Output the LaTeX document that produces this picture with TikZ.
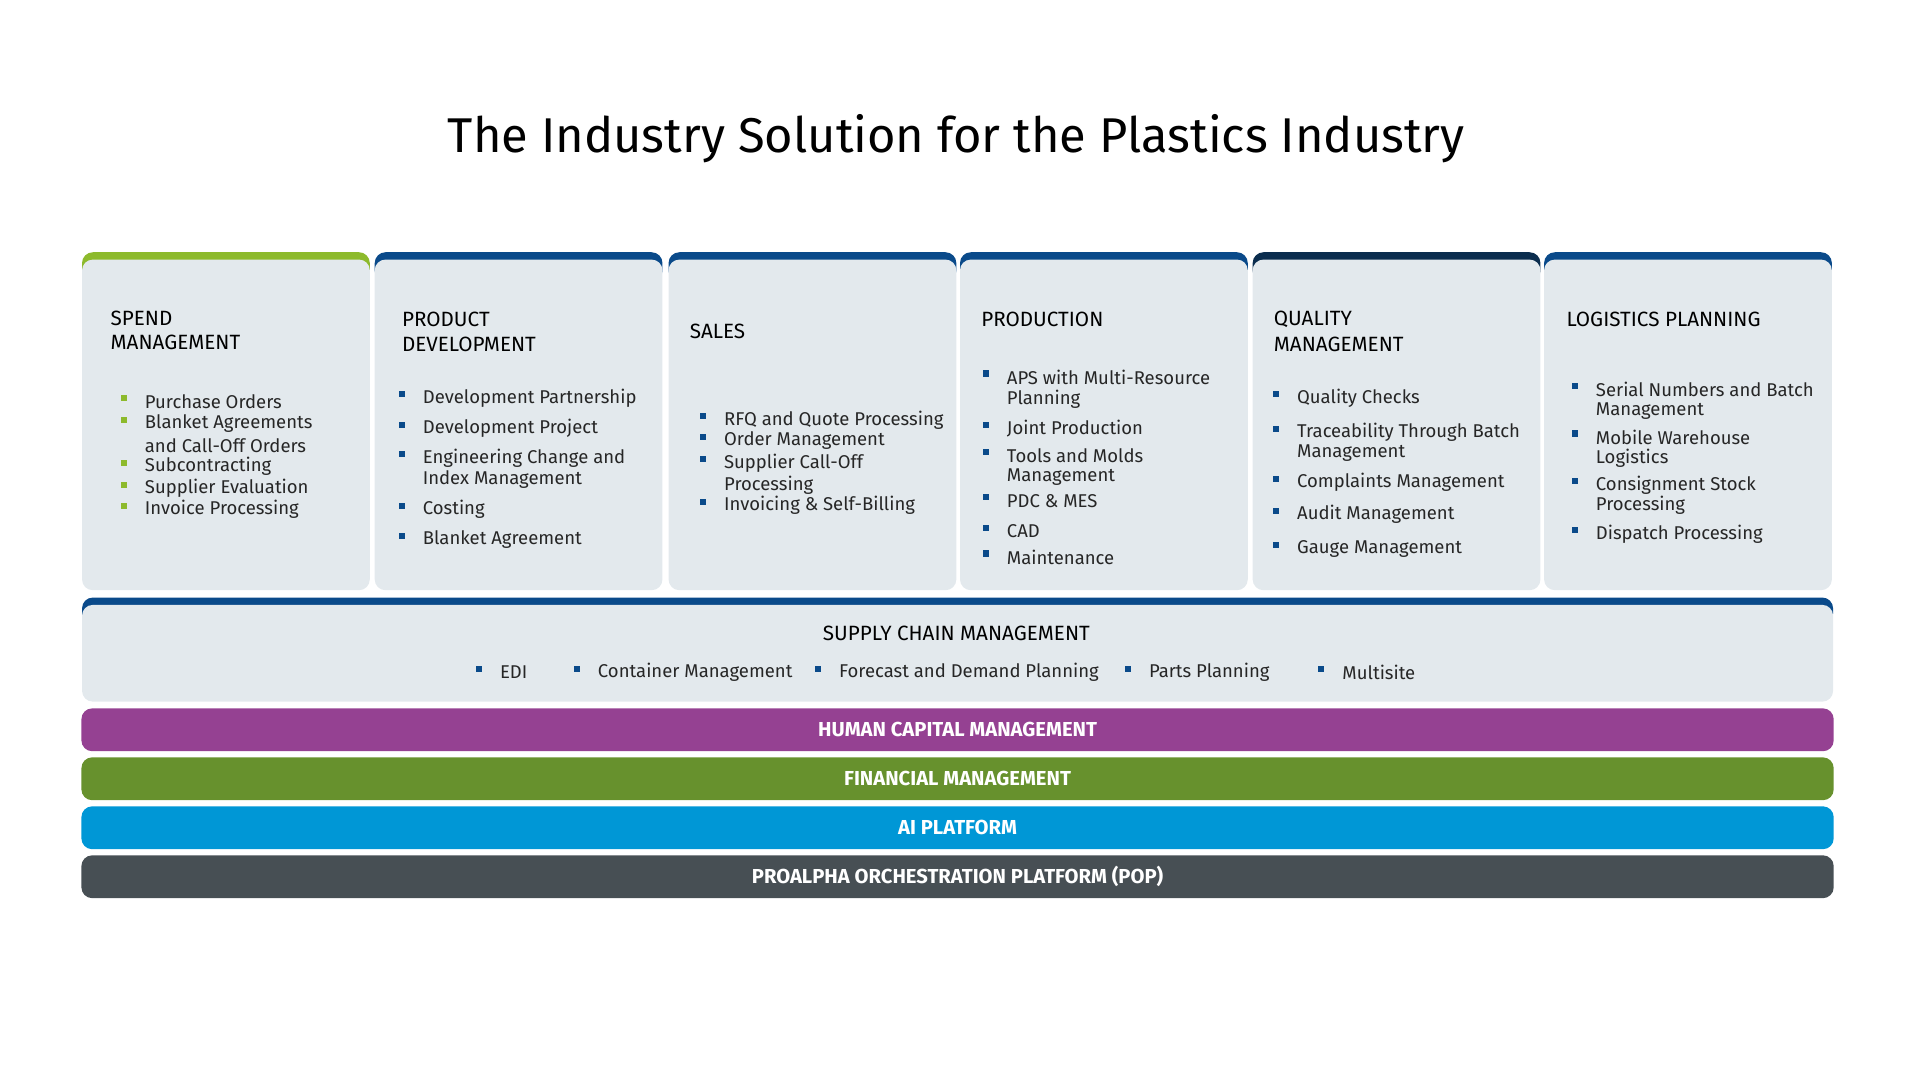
\documentclass[tikz,border=0pt]{standalone}
\usepackage{fontspec}
\setmainfont{Fira Sans}
\begin{document}
\begin{tikzpicture}[x=0.02cm,y=-0.02cm,
  col/.style={fill=colbg,rounded corners=5},
  hd/.style={anchor=west,font=\fontsize{9.6pt}{11pt}\selectfont,text=black,inner sep=0},
  tx/.style={anchor=west,font=\fontsize{8.6pt}{10pt}\selectfont,text=black!85,inner sep=0},
  bar/.style={rounded corners=5,minimum width=1431*0.02cm,minimum height=35*0.02cm,inner sep=0,text=white,font=\fontsize{9.4pt}{11pt}\selectfont\bfseries},
  sq/.style={fill=#1,minimum size=5*0.02cm,inner sep=0}]
\definecolor{colbg}{HTML}{E3E9ED}
\definecolor{dblue}{HTML}{0A4A8A}
\definecolor{ddblue}{HTML}{0B2D4E}
\definecolor{lgreen}{HTML}{8DBA2C}
\useasboundingbox (0,0) rectangle (1568,882);
\node[font=\fontsize{22.7pt}{26pt}\selectfont,inner sep=0] (title) at (781,113) {The Industry Solution for the Plastics Industry};
% columns
\foreach \x/\c [count=\i] in {67/lgreen,306/dblue,546/dblue,784/dblue,1023/ddblue,1261/dblue}{
  \fill[\c,rounded corners=5] (\x,206) rectangle (\x+235,230);
  \fill[col] (\x,212) rectangle (\x+235,482);
  \coordinate (c\i) at (\x,206);
}
\newcommand\bl[5][dblue]{\node[sq=#1] (b#2) at (#3,#4-3) {};\node[tx] (t#2) at (#3+17,#4) {#5};}
\newcommand\tl[4]{\node[tx] (#1) at (#2+17,#3) {#4};}
% spend
\node[hd] (h1) at (90,260) {SPEND}; \node[hd] (h1b) at (90,280) {MANAGEMENT};
\bl[lgreen]{11}{101}{328}{Purchase Orders}
\bl[lgreen]{12}{101}{346}{Blanket Agreements}\tl{t12b}{101}{364}{and Call-Off Orders}
\bl[lgreen]{13}{101}{381}{Subcontracting}
\bl[lgreen]{14}{101}{399}{Supplier Evaluation}
\bl[lgreen]{15}{101}{416}{Invoice Processing}
% product dev
\node[hd] (h2) at (328,261) {PRODUCT}; \node[hd] (h2b) at (328,281) {DEVELOPMENT};
\bl{21}{328}{325}{Development Partnership}
\bl{22}{328}{350}{Development Project}
\bl{23}{328}{374}{Engineering Change and}\tl{t23b}{328}{392}{Index Management}
\bl{24}{328}{416}{Costing}
\bl{25}{328}{441}{Blanket Agreement}
% sales
\node[hd] (h3) at (563,271) {SALES};
\bl{31}{574}{343}{RFQ and Quote Processing}
\bl{32}{574}{360}{Order Management}
\bl{33}{574}{378}{Supplier Call-Off}\tl{t33b}{574}{396}{Processing}
\bl{34}{574}{413}{Invoicing \& Self-Billing}
% production
\node[hd] (h4) at (801,261) {PRODUCTION};
\bl{41}{805}{308}{APS with Multi-Resource}\tl{t41b}{805}{326}{Planning}
\bl{42}{805}{350}{Joint Production}
\bl{43}{805}{372}{Tools and Molds}\tl{t43b}{805}{390}{Management}
\bl{44}{805}{409}{PDC \& MES}
\bl{45}{805}{434}{CAD}
\bl{46}{805}{455}{Maintenance}
% quality
\node[hd] (h5) at (1040,261) {QUALITY}; \node[hd] (h5b) at (1040,281) {MANAGEMENT};
\bl{51}{1042}{325}{Quality Checks}
\bl{52}{1042}{353}{Traceability Through Batch}\tl{t52b}{1042}{370}{Management}
\bl{53}{1042}{394}{Complaints Management}
\bl{54}{1042}{420}{Audit Management}
\bl{55}{1042}{448}{Gauge Management}
% logistics
\node[hd] (h6) at (1279,261) {LOGISTICS PLANNING};
\bl{61}{1286}{318}{Serial Numbers and Batch}\tl{t61b}{1286}{336}{Management}
\bl{62}{1286}{357}{Mobile Warehouse}\tl{t62b}{1286}{374}{Logistics}
\bl{63}{1286}{396}{Consignment Stock}\tl{t63b}{1286}{413}{Processing}
\bl{64}{1286}{436}{Dispatch Processing}
% supply chain
\fill[dblue,rounded corners=5] (67,488) rectangle (1497,510);
\fill[col] (67,494) rectangle (1497,573);
\node[hd,anchor=center] (scm) at (781,517) {SUPPLY CHAIN MANAGEMENT};
\bl{71}{391}{549}{EDI}
\bl{72}{471}{549}{Container Management}
\bl{73}{668}{549}{Forecast and Demand Planning}
\bl{74}{921}{549}{Parts Planning}
\bl{75}{1079}{549}{Multisite}
% bars
\node[bar,fill={rgb,255:red,149;green,65;blue,146}] (hcm) at (782,596) {HUMAN CAPITAL MANAGEMENT};
\node[bar,fill={rgb,255:red,103;green,145;blue,45}] (fm) at (782,636) {FINANCIAL MANAGEMENT};
\node[bar,fill={rgb,255:red,0;green,151;blue,214}] (ai) at (782,676) {AI PLATFORM};
\node[bar,fill={rgb,255:red,71;green,79;blue,84}] (pop) at (782,716) {PROALPHA ORCHESTRATION PLATFORM (POP)};
\end{tikzpicture}
\end{document}
